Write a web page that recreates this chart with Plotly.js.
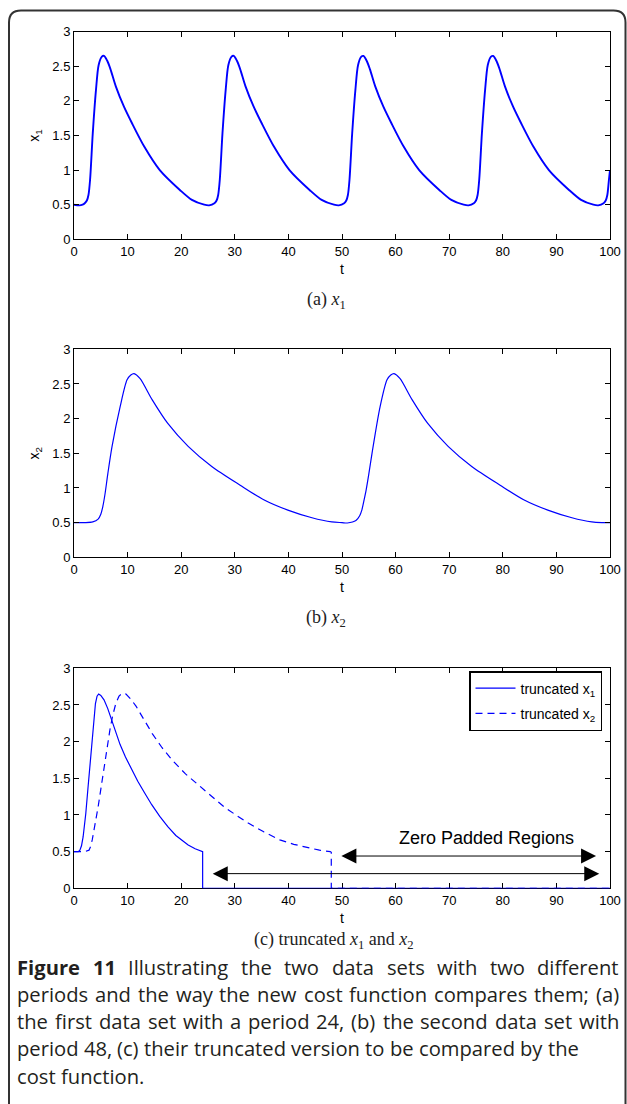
<!DOCTYPE html>
<html>
<head>
<meta charset="utf-8">
<script src="https://cdn.plot.ly/plotly-3.0.1.min.js"></script>
<style>html,body{margin:0;padding:0;background:#fff;}#chart{width:627px;height:1104px;}</style>
</head>
<body>
<div id="chart"></div>
<script>
// ---- data ----
// (a) x1 over t
const tX1 = [0, 1.0, 1.6, 2.0, 2.4, 2.7, 3.0, 3.5, 4.1, 4.6, 5.2, 5.6, 6.2, 6.8, 7.8, 9.3, 10.8, 13.1, 16.0, 19.8, 22.0, 24.3, 25.2,
  26.2, 26.6, 26.9, 27.2, 27.7, 28.3, 28.8, 29.4, 29.8, 30.4, 31.0, 32.0, 33.5, 35.0, 37.3, 40.2, 44.0, 46.2, 48.5, 49.4,
  50.4, 50.8, 51.1, 51.4, 51.9, 52.5, 53.0, 53.6, 54.0, 54.6, 55.2, 56.2, 57.7, 59.2, 61.5, 64.4, 68.2, 70.4, 72.7, 73.6,
  74.6, 75.0, 75.3, 75.6, 76.1, 76.7, 77.2, 77.8, 78.2, 78.8, 79.4, 80.4, 81.9, 83.4, 85.7, 88.6, 92.4, 94.6, 96.9, 97.8,
  98.8, 99.2, 99.5, 99.8, 100];
const x1 = [0.50, 0.49, 0.50, 0.52, 0.56, 0.64, 0.86, 1.53, 2.16, 2.52, 2.64, 2.65, 2.58, 2.46, 2.21, 1.92, 1.68, 1.34, 1.00, 0.71, 0.57, 0.50, 0.49,
  0.52, 0.56, 0.64, 0.86, 1.53, 2.16, 2.52, 2.64, 2.65, 2.58, 2.46, 2.21, 1.92, 1.68, 1.34, 1.00, 0.71, 0.57, 0.50, 0.49,
  0.52, 0.56, 0.64, 0.86, 1.53, 2.16, 2.52, 2.64, 2.65, 2.58, 2.46, 2.21, 1.92, 1.68, 1.34, 1.00, 0.71, 0.57, 0.50, 0.49,
  0.52, 0.56, 0.64, 0.86, 1.53, 2.16, 2.52, 2.64, 2.65, 2.58, 2.46, 2.21, 1.92, 1.68, 1.34, 1.00, 0.71, 0.57, 0.50, 0.49,
  0.52, 0.56, 0.64, 0.86, 1.00];

// (b) x2 over t
const tX2 = [0, 2.0, 3.5, 4.5, 5.0, 5.4, 5.8, 6.3, 7.1, 8.6, 9.9, 10.6, 11.2, 12.3, 14.6, 17.5, 21.3, 25.7, 31.0, 35.4, 39.9, 44.4, 48.1, 50.0, 51.0,
  52.6, 53.3, 53.7, 54.1, 54.5, 55.0, 55.6, 57.1, 58.4, 59.1, 59.7, 60.8, 63.1, 66.0, 69.8, 74.2, 79.5, 83.9, 88.4, 92.9, 96.6, 98.5, 100];
const x2 = [0.50, 0.50, 0.51, 0.55, 0.62, 0.74, 0.92, 1.20, 1.60, 2.17, 2.56, 2.63, 2.65, 2.58, 2.27, 1.93, 1.60, 1.31, 1.04, 0.83, 0.68, 0.57, 0.51, 0.50, 0.495,
  0.53, 0.60, 0.68, 0.82, 0.97, 1.20, 1.50, 2.17, 2.56, 2.63, 2.65, 2.58, 2.27, 1.93, 1.60, 1.31, 1.04, 0.83, 0.68, 0.57, 0.51, 0.50, 0.50];

// (c) truncated series (value drops to zero at the truncation point)
const tTr1 = [0, 0.8, 1.1, 1.4, 1.7, 2.0, 2.2, 2.6, 3.0, 3.4, 3.7, 4.0, 4.3, 4.6, 5.0, 5.6, 6.3, 7.1, 7.8, 8.6, 9.6, 10.8, 11.9, 13.1, 14.5, 16.0, 17.5, 19.0, 20.2, 21.3, 22.6, 23.9, 24.0, 24.0, 100];
const tr1  = [0.50, 0.50, 0.52, 0.58, 0.70, 0.88, 1.02, 1.36, 1.70, 2.07, 2.34, 2.52, 2.62, 2.65, 2.63, 2.57, 2.45, 2.27, 2.12, 1.96, 1.79, 1.61, 1.46, 1.31, 1.14, 0.98, 0.84, 0.72, 0.65, 0.59, 0.54, 0.51, 0.50, 0, 0];
const tTr2 = [0, 2.0, 2.8, 3.1, 3.4, 3.9, 4.5, 5.0, 5.6, 6.2, 6.7, 7.2, 7.8, 8.4, 9.0, 9.7, 10.6, 11.6, 13.0, 14.6, 16.4, 18.3, 20.8, 23.5, 25.7, 28.0, 30.2, 32.5, 35.4, 38.4, 41.0, 43.7, 45.8, 47.8, 48.0, 48.0, 100];
const tr2  = [0.50, 0.50, 0.52, 0.57, 0.66, 0.85, 1.11, 1.35, 1.66, 1.95, 2.16, 2.35, 2.52, 2.62, 2.66, 2.65, 2.58, 2.48, 2.30, 2.11, 1.92, 1.75, 1.56, 1.39, 1.25, 1.11, 1.00, 0.89, 0.77, 0.66, 0.60, 0.55, 0.52, 0.50, 0.49, 0, 0];

const legendNames = ['truncated x<sub>1</sub>', 'truncated x<sub>2</sub>'];
const xTicks = [0, 10, 20, 30, 40, 50, 60, 70, 80, 90, 100];
const yTicks = [0, 0.5, 1, 1.5, 2, 2.5, 3];
const subCaptions = ['(a) <i>x</i><sub>1</sub>', '(b) <i>x</i><sub>2</sub>', '(c) truncated <i>x</i><sub>1</sub> and <i>x</i><sub>2</sub>'];
const captionLines = [
  'Figure 11 Illustrating the two data sets with two different',
  'periods and the way the new cost function compares them; (a)',
  'the first data set with a period 24, (b) the second data set with',
  'period 48, (c) their truncated version to be compared by the',
  'cost function.'
];
const boldWords = 2;            // "Figure 11" is bold
const justified = [true, true, true, false, false];
const padLabel = 'Zero Padded Regions';

// ---- layout helpers ----
const W = 627, H = 1104;
const px = v => v / W;
const py = v => 1 - v / H;
const BLUE = '#0000ff';
const axisFont = {family: 'Liberation Sans, Arial, sans-serif', size: 13, color: '#000'};
const titleFont = {family: 'Liberation Sans, Arial, sans-serif', size: 14, color: '#000'};

function xa(anchor, below) {
  return {
    domain: [px(74), px(610)], anchor: anchor, range: [0, 100],
    tickvals: xTicks, ticks: 'inside', ticklen: 5, tickcolor: '#000',
    showline: true, linecolor: '#000', linewidth: 1, mirror: 'ticks',
    showgrid: false, zeroline: false, tickfont: axisFont,
    layer: below ? 'below traces' : 'above traces',
    title: {text: 't', font: titleFont, standoff: 6}
  };
}
function ya(anchor, top, bottom, title, below) {
  const o = {
    domain: [py(bottom), py(top)], anchor: anchor, range: [0, 3],
    tickvals: yTicks, ticks: 'inside', ticklen: 5, tickcolor: '#000',
    showline: true, linecolor: '#000', linewidth: 1, mirror: 'ticks',
    showgrid: false, zeroline: false, tickfont: axisFont,
    layer: below ? 'below traces' : 'above traces'
  };
  if (title) o.title = {text: title, font: titleFont, standoff: 9};
  return o;
}

const traces = [
  {x: tX1, y: x1, xaxis: 'x', yaxis: 'y', mode: 'lines', showlegend: false,
   line: {color: BLUE, width: 1.9, shape: 'spline', smoothing: 0.8}},
  {x: tX2, y: x2, xaxis: 'x2', yaxis: 'y2', mode: 'lines', showlegend: false,
   line: {color: BLUE, width: 1.2, shape: 'spline', smoothing: 0.8}},
  {x: tTr1, y: tr1, xaxis: 'x3', yaxis: 'y3', mode: 'lines', name: legendNames[0], legendgroup: 'a',
   line: {color: BLUE, width: 1.2, shape: 'linear'}},
  {x: tTr2, y: tr2, xaxis: 'x3', yaxis: 'y3', mode: 'lines', name: legendNames[1], legendgroup: 'b',
   line: {color: BLUE, width: 1.2, dash: '7px,5px', shape: 'linear'}}
];

const serif = {family: 'Liberation Serif, Times New Roman, serif', size: 18, color: '#222'};
const CAP_SIZE = 20.2, CAP_FAMILY = 'Open Sans';
const capFont = {family: CAP_FAMILY + ', sans-serif', size: CAP_SIZE, color: '#231f20'};

const annotations = [
  {xref: 'paper', yref: 'paper', x: px(326), y: py(300), text: subCaptions[0], showarrow: false, font: serif, xanchor: 'center', yanchor: 'middle'},
  {xref: 'paper', yref: 'paper', x: px(326), y: py(618), text: subCaptions[1], showarrow: false, font: serif, xanchor: 'center', yanchor: 'middle'},
  {xref: 'paper', yref: 'paper', x: px(334), y: py(940), text: subCaptions[2], showarrow: false, font: serif, xanchor: 'center', yanchor: 'middle', borderpad: 0},
  {xref: 'x3', yref: 'y3', x: 76.9, y: 0.69, text: padLabel, showarrow: false,
   font: {family: 'Liberation Sans, Arial, sans-serif', size: 18, color: '#000'}},
  {xref: 'x3', yref: 'y3', x: 97.4, y: 0.44, axref: 'x3', ayref: 'y3', ax: 49.6, ay: 0.44, text: '',
   showarrow: true, arrowside: 'end+start', arrowhead: 2, arrowsize: 3, arrowwidth: 1, arrowcolor: '#000', standoff: 0, startstandoff: 0},
  {xref: 'x3', yref: 'y3', x: 98.0, y: 0.2, axref: 'x3', ayref: 'y3', ax: 25.6, ay: 0.2, text: '',
   showarrow: true, arrowside: 'end+start', arrowhead: 2, arrowsize: 3, arrowwidth: 1, arrowcolor: '#000', standoff: 0, startstandoff: 0}
];

// caption: lines laid out word by word so the first three are justified like the reference
const capY = [967, 994, 1021, 1048, 1076];
const CAP_LEFT = 16, CAP_RIGHT = 618;
const ctx = document.createElement('canvas').getContext('2d');
function wordW(s, bold) {
  ctx.font = (bold ? 'bold ' : '') + CAP_SIZE + 'px "' + CAP_FAMILY + '"';
  return ctx.measureText(s).width;
}
let wordIndex = 0;
captionLines.forEach((line, i) => {
  const words = line.split(' ');
  const info = words.map(w => { const b = wordIndex++ < boldWords; return {w: w, b: b, width: wordW(w, b)}; });
  const total = info.reduce((a, o) => a + o.width, 0);
  const gap = justified[i] ? (CAP_RIGHT - CAP_LEFT - total) / (info.length - 1) : wordW(' ', false);
  let cx = CAP_LEFT;
  info.forEach(o => {
    annotations.push({xref: 'paper', yref: 'paper', x: px(cx), y: py(capY[i]),
      text: o.b ? '<b>' + o.w + '</b>' : o.w, showarrow: false, xanchor: 'left', yanchor: 'middle',
      font: capFont, borderpad: 0});
    cx += o.width + gap;
  });
});

const x0 = px(9), x1r = px(625.5), yt = py(10.5), rx = px(12), ry = 12 / H;
const frame = {
  type: 'path', xref: 'paper', yref: 'paper',
  path: `M ${x0},-0.02 L ${x0},${yt - ry} Q ${x0},${yt} ${x0 + rx},${yt} L ${x1r - rx},${yt} Q ${x1r},${yt} ${x1r},${yt - ry} L ${x1r},-0.02`,
  line: {color: '#333', width: 2}
};

const layout = {
  width: W, height: H, margin: {l: 0, r: 0, t: 0, b: 0},
  paper_bgcolor: '#fff', plot_bgcolor: '#fff', showlegend: true,
  xaxis: xa('y', false), yaxis: ya('x', 31.7, 239.3, 'x<sub>1</sub>', false),
  xaxis2: xa('y2', false), yaxis2: ya('x2', 349.3, 557.3, 'x<sub>2</sub>', false),
  xaxis3: xa('y3', true), yaxis3: ya('x3', 668.3, 888.3, null, true),
  legend: {x: px(602), y: py(671), xanchor: 'right', yanchor: 'top', bgcolor: '#fff',
           bordercolor: '#000', borderwidth: 1.5, font: {family: 'Liberation Sans, Arial, sans-serif', size: 14, color: '#000'},
           itemwidth: 40, tracegroupgap: 4},
  annotations: annotations,
  shapes: [frame]
};

Plotly.newPlot('chart', traces, layout, {displayModeBar: false, staticPlot: true});
</script>
</body>
</html>
